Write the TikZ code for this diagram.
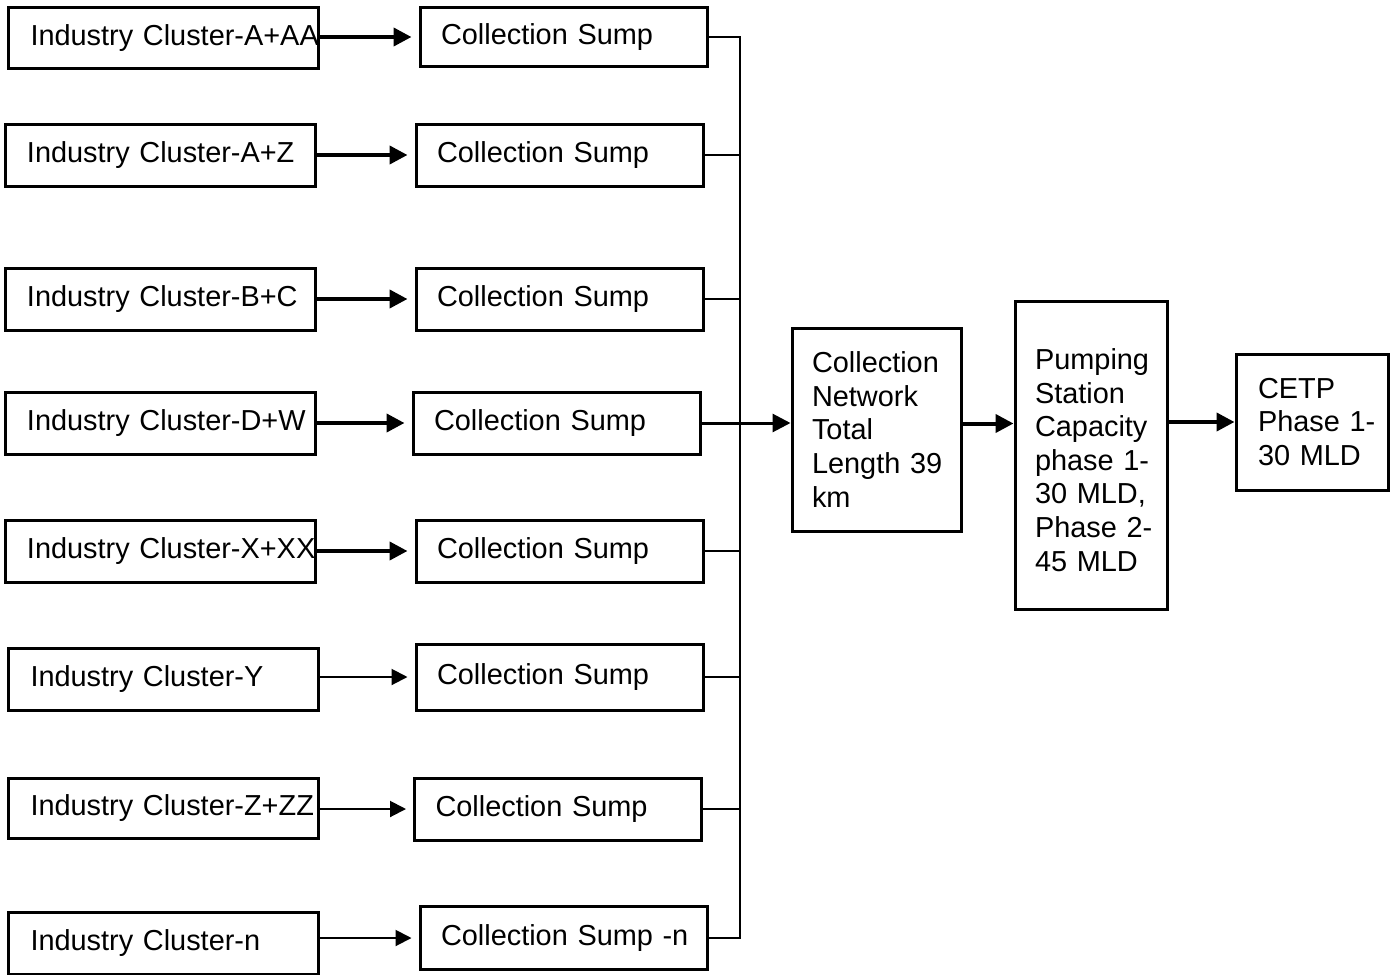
\documentclass[tikz,border=0pt]{standalone}
\usepackage{fontspec}
\setmainfont{Liberation Sans}
\usetikzlibrary{arrows.meta,calc}
\exhyphenpenalty=10000
\hyphenpenalty=10000

\begin{document}
\begin{tikzpicture}[x=1pt, y=-1pt,
    every node/.style={draw, line width=3pt, font=\fontsize{28.9}{33.6}\selectfont, align=left, inner ysep=0pt},
    clus/.style={inner xsep=22pt, text width=266pt, minimum height=62pt},
    sump/.style={inner xsep=21pt, text width=245pt, minimum height=62pt},
    blk/.style={inner xsep=20pt},
    arr/.style={-{Triangle[length=18pt, width=18pt]}, line width=4pt},
    tarr/.style={-{Triangle[length=16pt, width=16pt]}, line width=2pt},
    bus/.style={line width=1.2pt}
]
\useasboundingbox (0,0) rectangle (1396,974);

% Left column — industry clusters
\node[clus, minimum height=60pt] (ic1) at (163.5, 38) {Industry~Cluster-A+AA};
\node[clus] (ic2) at (160, 155)   {Industry~Cluster-A+Z};
\node[clus] (ic3) at (160, 299)   {Industry~Cluster-B+C};
\node[clus] (ic4) at (160, 423)   {Industry~Cluster-D+W};
\node[clus] (ic5) at (160, 551)   {Industry~Cluster-X+XX};
\node[clus] (ic6) at (163.5, 679) {Industry~Cluster-Y};
\node[clus, minimum height=60pt] (ic7) at (163.5, 808) {Industry~Cluster-Z+ZZ};
\node[clus] (ic8) at (163.5, 943) {Industry~Cluster-n};

% Middle column — collection sumps
\node[sump, minimum height=58pt] (cs1) at (563.5, 37) {Collection Sump};
\node[sump] (cs2) at (559.5, 155) {Collection Sump};
\node[sump] (cs3) at (559.5, 299) {Collection Sump};
\node[sump] (cs4) at (556.5, 423) {Collection Sump};
\node[sump] (cs5) at (559.5, 551) {Collection Sump};
\node[sump, minimum height=66pt] (cs6) at (559.5, 677) {Collection Sump};
\node[sump] (cs7) at (558, 809)   {Collection Sump};
\node[sump, minimum height=63pt] (cs8) at (563.5, 938) {Collection~Sump~-n};

% Right part — network, pumping station, CETP
\node[blk, text width=129pt, minimum height=203pt] (net) at (876.5, 429.5)
    {Collection\\Network\\Total\\Length~39\\km};
\node[blk, text width=112pt, minimum height=308pt] (ps) at (1091, 455)
    {\rule{0pt}{31pt}Pumping\\Station\\Capacity\\phase~1-\\30~MLD,\\Phase~2-\\45~MLD};
\node[blk, inner xsep=22pt, text width=108pt, minimum height=136pt] (cetp) at (1312, 422)
    {CETP\\Phase~1-\\30~MLD};

% Cluster to sump arrows
\foreach \i in {1,...,5}
    \draw[arr, shorten >=7pt] (cs\i.west -| ic\i.east) -- (cs\i.west);
\foreach \i in {6,7,8}
    \draw[tarr, shorten >=7pt] (cs\i.west -| ic\i.east) -- (cs\i.west);

% Sumps into the common line
\coordinate (bus) at (740, 423);
\draw[bus] (cs1.east) -| (bus) |- (cs8.east);
\foreach \i in {2,3,5,6,7}
    \draw[bus] (cs\i.east) -- (cs\i.east -| bus);

% Main flow
\draw[arr, line width=3pt] (cs4.east) -- (cs4.east -| net.west);
\draw[arr] ([yshift=6pt]net.east) -- ([yshift=6pt]net.east -| ps.west);
\draw[arr] (ps.east |- cetp.west) -- (cetp.west);
\end{tikzpicture}
\end{document}
